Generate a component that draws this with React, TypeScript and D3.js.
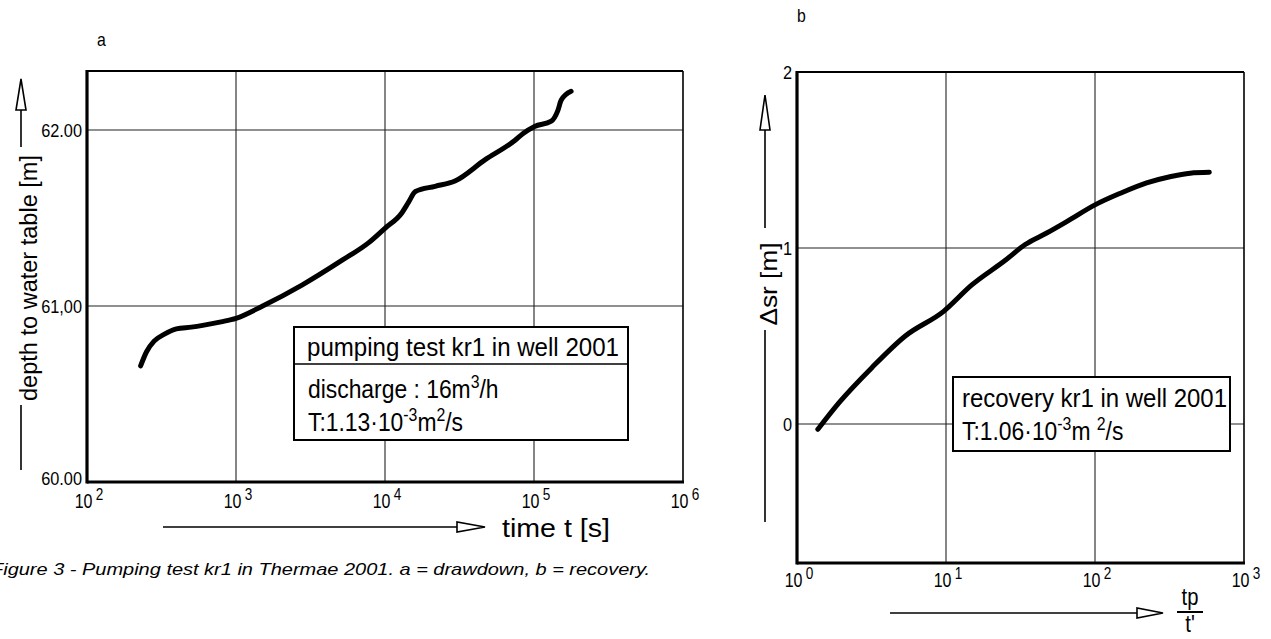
'use client';

import { useRef, useEffect } from 'react';
import * as d3 from 'd3';

const NFONT = "'Liberation Sans', Arial, sans-serif";
const SX = 0.88; // horizontal squeeze, the drawing uses a narrow DIN-like face

// panel a: drawdown, time [s] vs depth to water table [m]
const DRAW_TIME = [
  229, 251, 282, 331, 398, 501, 598, 794, 1000, 1510, 2790, 5160, 7780, 9950,
  13000, 14400, 16000, 21700, 29500, 46800, 74300, 84500, 100900, 130600,
  144500, 152400, 177400,
];
const DRAW_DEPTH = [
  60.66, 60.74, 60.8, 60.84, 60.87, 60.88, 60.89, 60.91, 60.93, 61.0, 61.12,
  61.26, 61.36, 61.44, 61.53, 61.59, 61.65, 61.68, 61.71, 61.83, 61.94, 61.98,
  62.02, 62.05, 62.11, 62.17, 62.22,
];
const DRAW_X_TICKS = [1e2, 1e3, 1e4, 1e5, 1e6];
const DRAW_Y_TICKS = [60, 61, 62];
const DRAW_Y_LABELS = ['60.00', '61,00', '62.00'];

// panel b: recovery, tp/t' vs delta sr [m]
const REC_RATIO = [1.38, 1.91, 3.18, 5.33, 9.64, 14.9, 25, 34, 47.4, 64.6, 100, 147, 222, 318, 435, 585];
const REC_DS = [-0.03, 0.12, 0.32, 0.5, 0.64, 0.79, 0.93, 1.02, 1.085, 1.15, 1.245, 1.31, 1.37, 1.405, 1.425, 1.43];
const REC_X_TICKS = [1, 10, 100, 1000];
const REC_Y_TICKS = [0, 1, 2];
const REC_Y_LABELS = ['0', '1', '2'];

const CAPTION = 'Figure 3 - Pumping test kr1 in Thermae 2001. a = drawdown, b = recovery.';

type Sel = d3.Selection<any, unknown, null, undefined>;

function ntext(parent: Sel, x: number, y: number, size: number, anchor = 'start', sx = SX, rot = 0) {
  return parent.append('text')
    .attr('transform', `translate(${x},${y})${rot ? ` rotate(${rot})` : ''} scale(${sx},1)`)
    .attr('text-anchor', anchor)
    .attr('font-family', NFONT)
    .attr('font-size', size)
    .attr('fill', '#000');
}

function arrowUp(g: Sel, x: number, tip: number, base: number, end: number) {
  g.append('line').attr('x1', x).attr('x2', x).attr('y1', base).attr('y2', end)
    .attr('stroke', '#000').attr('stroke-width', 1.6);
  g.append('path')
    .attr('d', `M${x},${tip}L${x - 5},${base}L${x + 5},${base}Z`)
    .attr('fill', '#fff').attr('stroke', '#000').attr('stroke-width', 1.6);
}

function arrowRight(g: Sel, y: number, start: number, base: number, tip: number) {
  g.append('line').attr('x1', start).attr('x2', base).attr('y1', y).attr('y2', y)
    .attr('stroke', '#000').attr('stroke-width', 1.6);
  g.append('path')
    .attr('d', `M${tip},${y}L${base},${y - 5}L${base},${y + 5}Z`)
    .attr('fill', '#fff').attr('stroke', '#000').attr('stroke-width', 1.6);
}

function drawPanel(
  svg: Sel,
  x: d3.ScaleLogarithmic<number, number>,
  y: d3.ScaleLinear<number, number>,
  xTicks: number[],
  yTicks: number[],
  yLabels: string[],
  xs: number[],
  ys: number[],
  xLabelBaseline: number,
) {
  const [x0, x1] = x.range();
  const [yb, yt] = y.range();
  const [d0, d1] = y.domain();
  const g = svg.append('g');

  // grid
  g.selectAll('line.vg')
    .data(xTicks.slice(1, -1))
    .join('line')
    .attr('x1', (d) => x(d)).attr('x2', (d) => x(d))
    .attr('y1', yt).attr('y2', yb)
    .attr('stroke', '#222').attr('stroke-width', 1.1);
  g.selectAll('line.hg')
    .data(yTicks.filter((t) => t > d0 + 1e-6 && t < d1 - 1e-6))
    .join('line')
    .attr('x1', x0).attr('x2', x1)
    .attr('y1', (d) => y(d)).attr('y2', (d) => y(d))
    .attr('stroke', '#222').attr('stroke-width', 1.1);

  // frame
  g.append('line').attr('x1', x0).attr('x2', x1).attr('y1', yt).attr('y2', yt)
    .attr('stroke', '#000').attr('stroke-width', 2);
  g.append('line').attr('x1', x1).attr('x2', x1).attr('y1', yt).attr('y2', yb)
    .attr('stroke', '#000').attr('stroke-width', 1.6);
  g.append('line').attr('x1', x0).attr('x2', x0).attr('y1', yt - 1).attr('y2', yb + 1.5)
    .attr('stroke', '#000').attr('stroke-width', 3.2);
  g.append('line').attr('x1', x0).attr('x2', x1 + 1).attr('y1', yb).attr('y2', yb)
    .attr('stroke', '#000').attr('stroke-width', 3.2);

  // x tick labels 10^n
  const xl = g.selectAll('text.xt')
    .data(xTicks)
    .join('text')
    .attr('transform', (d) => `translate(${x(d) + 2},${xLabelBaseline}) scale(0.8,1)`)
    .attr('text-anchor', 'middle')
    .attr('font-family', NFONT)
    .attr('font-size', 20)
    .attr('fill', '#000');
  xl.append('tspan').text('10');
  xl.append('tspan').attr('dx', 4).attr('dy', -8).attr('font-size', 17)
    .text((d) => String(Math.round(Math.log10(d))));

  // y tick labels
  g.selectAll('text.yt')
    .data(yTicks)
    .join('text')
    .attr('transform', (d) => `translate(${x0 - 5},${y(d) + (d === d0 ? 3 : 7)}) scale(0.86,1)`)
    .attr('text-anchor', 'end')
    .attr('font-family', NFONT)
    .attr('font-size', 19)
    .attr('fill', '#000')
    .text((_, i) => yLabels[i]);

  // curve
  const line = d3.line<number>()
    .x((_, i) => x(xs[i]))
    .y((d) => y(d))
    .curve(d3.curveMonotoneX);
  g.append('path')
    .attr('d', line(ys))
    .attr('fill', 'none')
    .attr('stroke', '#000')
    .attr('stroke-width', 5)
    .attr('stroke-linecap', 'round')
    .attr('stroke-linejoin', 'round');

  return g;
}

function supLine(t: Sel, parts: [string, boolean][]) {
  let up = false;
  parts.forEach(([s, sup]) => {
    const ts = t.append('tspan').text(s);
    if (sup && !up) { ts.attr('dy', -10).attr('font-size', 18); up = true; }
    else if (sup) ts.attr('font-size', 18);
    else if (!sup && up) { ts.attr('dy', 10); up = false; }
  });
}

export default function App() {
  const svgRef = useRef<SVGSVGElement>(null);

  useEffect(() => {
    if (!svgRef.current) return;
    const svg = d3.select(svgRef.current) as unknown as Sel;
    svg.selectAll('*').remove();

    svg.append('rect').attr('width', 1271).attr('height', 639).attr('fill', '#fff');

    // ---- panel a ----
    const xA = d3.scaleLog().domain([1e2, 1e6]).range([87, 683]);
    const yA = d3.scaleLinear().domain([60, 62.335]).range([482, 71]);
    const gA = drawPanel(svg, xA, yA, DRAW_X_TICKS, DRAW_Y_TICKS, DRAW_Y_LABELS, DRAW_TIME, DRAW_DEPTH, 508);

    // legend a
    gA.append('rect').attr('x', 294).attr('y', 327).attr('width', 334).attr('height', 113)
      .attr('fill', '#fff').attr('stroke', '#000').attr('stroke-width', 2);
    gA.append('line').attr('x1', 294).attr('x2', 628).attr('y1', 364).attr('y2', 364)
      .attr('stroke', '#000').attr('stroke-width', 1.6);
    ntext(gA, 307, 356, 26, 'start', 1)
      .attr('textLength', 312).attr('lengthAdjust', 'spacingAndGlyphs')
      .text('pumping test  kr1 in well 2001');
    supLine(ntext(gA, 308, 398, 26), [['discharge : 16m', false], ['3', true], ['/h', false]]);
    supLine(ntext(gA, 308, 431, 26), [['T:1.13·10', false], ['-3', true], ['m', false], ['2', true], ['/s', false]]);

    // axis titles a
    arrowUp(gA, 21, 79, 110, 147);
    gA.append('line').attr('x1', 21).attr('x2', 21).attr('y1', 405).attr('y2', 470)
      .attr('stroke', '#000').attr('stroke-width', 1.6);
    ntext(gA, 37, 278, 23, 'middle', 1, -90)
      .attr('textLength', 246).attr('lengthAdjust', 'spacingAndGlyphs')
      .text('depth to water table [m]');
    arrowRight(gA, 527, 163, 457, 485);
    ntext(gA, 502, 537, 26, 'start', 1)
      .attr('textLength', 108).attr('lengthAdjust', 'spacingAndGlyphs')
      .text('time  t [s]');
    ntext(gA, 97, 46, 18).text('a');

    // ---- panel b ----
    const xB = d3.scaleLog().domain([1, 1000]).range([797, 1244]);
    const yB = d3.scaleLinear().domain([-0.79, 2]).range([563, 72]);
    const gB = drawPanel(svg, xB, yB, REC_X_TICKS, REC_Y_TICKS, REC_Y_LABELS, REC_RATIO, REC_DS, 587);

    gB.append('rect').attr('x', 953).attr('y', 377).attr('width', 277).attr('height', 74)
      .attr('fill', '#fff').attr('stroke', '#000').attr('stroke-width', 2);
    ntext(gB, 962, 407, 26, 'start', 1)
      .attr('textLength', 265).attr('lengthAdjust', 'spacingAndGlyphs')
      .text('recovery kr1 in well 2001');
    supLine(ntext(gB, 962, 440, 26), [['T:1.06·10', false], ['-3', true], ['m ', false], ['2', true], ['/s', false]]);

    arrowUp(gB, 765, 95, 130, 228);
    gB.append('line').attr('x1', 765).attr('x2', 765).attr('y1', 330).attr('y2', 522)
      .attr('stroke', '#000').attr('stroke-width', 1.6);
    ntext(gB, 777, 284, 24, 'middle', 1, -90)
      .attr('textLength', 83).attr('lengthAdjust', 'spacingAndGlyphs')
      .text('Δsr [m]');
    arrowRight(gB, 613, 890, 1137, 1163);
    ntext(gB, 1190, 605, 23, 'middle').text('tp');
    gB.append('line').attr('x1', 1177).attr('x2', 1203).attr('y1', 612).attr('y2', 612)
      .attr('stroke', '#000').attr('stroke-width', 2);
    ntext(gB, 1190, 632, 23, 'middle').text("t'");
    ntext(gB, 797, 22, 18).text('b');

    // caption
    svg.append('text').attr('x', -9).attr('y', 575)
      .attr('font-family', NFONT).attr('font-style', 'italic').attr('font-size', 17)
      .attr('textLength', 659).attr('lengthAdjust', 'spacingAndGlyphs')
      .text(CAPTION);
  }, []);

  return (
    <svg
      ref={svgRef}
      width={1271}
      height={639}
      style={{ position: 'absolute', left: 0, top: 0, display: 'block' }}
    />
  );
}
